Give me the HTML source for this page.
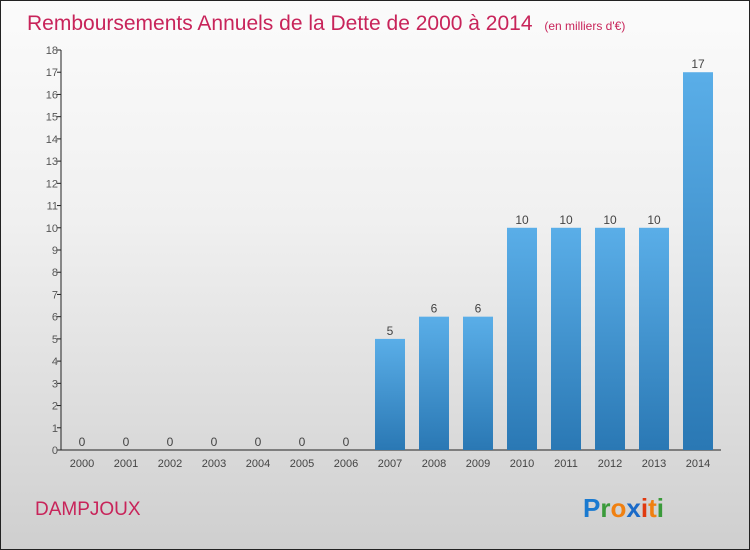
<!DOCTYPE html>
<html><head><meta charset="utf-8"><style>
body{margin:0;}
#wrap{position:relative;width:748px;height:548px;border:1px solid #222;background:linear-gradient(#fbfbfb,#f0f0f0 40%,#cfcfcf);font-family:"Liberation Sans",sans-serif;overflow:hidden;}
</style></head><body>
<div id="wrap">
<svg id="chart" width="748" height="548">
<defs><linearGradient id="bg" x1="0" y1="0" x2="0" y2="1"><stop offset="0" stop-color="#5aaee8"/><stop offset="1" stop-color="#2a78b4"/></linearGradient></defs>
<text x="26" y="29" font-size="21" fill="#c8245a">Remboursements Annuels de la Dette de 2000 à 2014 <tspan font-size="12" dx="6">(en milliers d'€)</tspan></text>
<text x="34" y="514" font-size="19" fill="#c8245a">DAMPJOUX</text>
<text x="582" y="516" font-size="26" font-weight="bold"><tspan fill="#1a7ad0">P</tspan><tspan fill="#3a9a3a">r</tspan><tspan fill="#f08010">o</tspan><tspan fill="#1a6ac8">x</tspan><tspan fill="#e03a10">i</tspan><tspan fill="#f08010">t</tspan><tspan fill="#3a9a3a">i</tspan></text>
<g id="plot"></g>
</svg>
</div>
<script>
const categories=["2000","2001","2002","2003","2004","2005","2006","2007","2008","2009","2010","2011","2012","2013","2014"];
const values=[0,0,0,0,0,0,0,5,6,6,10,10,10,10,17];
const yTicks=[0,1,2,3,4,5,6,7,8,9,10,11,12,13,14,15,16,17,18];
const NS="http://www.w3.org/2000/svg";
const g=document.getElementById('plot');
const x0=60,x1=720,yBase=449,yTop=49,yMax=18;
const y=v=>yBase-(yBase-yTop)*v/yMax;
const step=44,first=81;
const xc=i=>first+i*step;
function mk(t,a,p){const e=document.createElementNS(NS,t);for(const k in a)e.setAttribute(k,a[k]);(p||g).appendChild(e);return e;}
let ax=mk('line',{x1:x0,y1:yTop,x2:x0,y2:yBase,stroke:'#222','stroke-width':1});


let xa=mk('line',{x1:x0,y1:yBase,x2:x1,y2:yBase,stroke:'#222','stroke-width':1});


yTicks.forEach(t=>{
  const yy=y(t);
  mk('line',{x1:x0-4,y1:yy,x2:x0,y2:yy,stroke:'#222'});
  const tx=mk('text',{x:x0-3,y:yy+4,'font-size':11,'text-anchor':'end',fill:'#555'});
  tx.textContent=t;
  
  
});
categories.forEach((c,i)=>{
  const v=values[i],cx=xc(i);
  if(v>0){
    const r=mk('rect',{x:cx-15,y:y(v),width:30,height:yBase-y(v),fill:'url(#bg)'});
    
    
  }
  const lv=mk('text',{x:cx,y:y(v)-4,'font-size':12,'text-anchor':'middle',fill:'#444'});
  lv.textContent=v;
  
  
  const lx=mk('text',{x:cx,y:466,'font-size':11,'text-anchor':'middle',fill:'#444'});
  lx.textContent=c;
  
  
});
</script>
</body></html>
